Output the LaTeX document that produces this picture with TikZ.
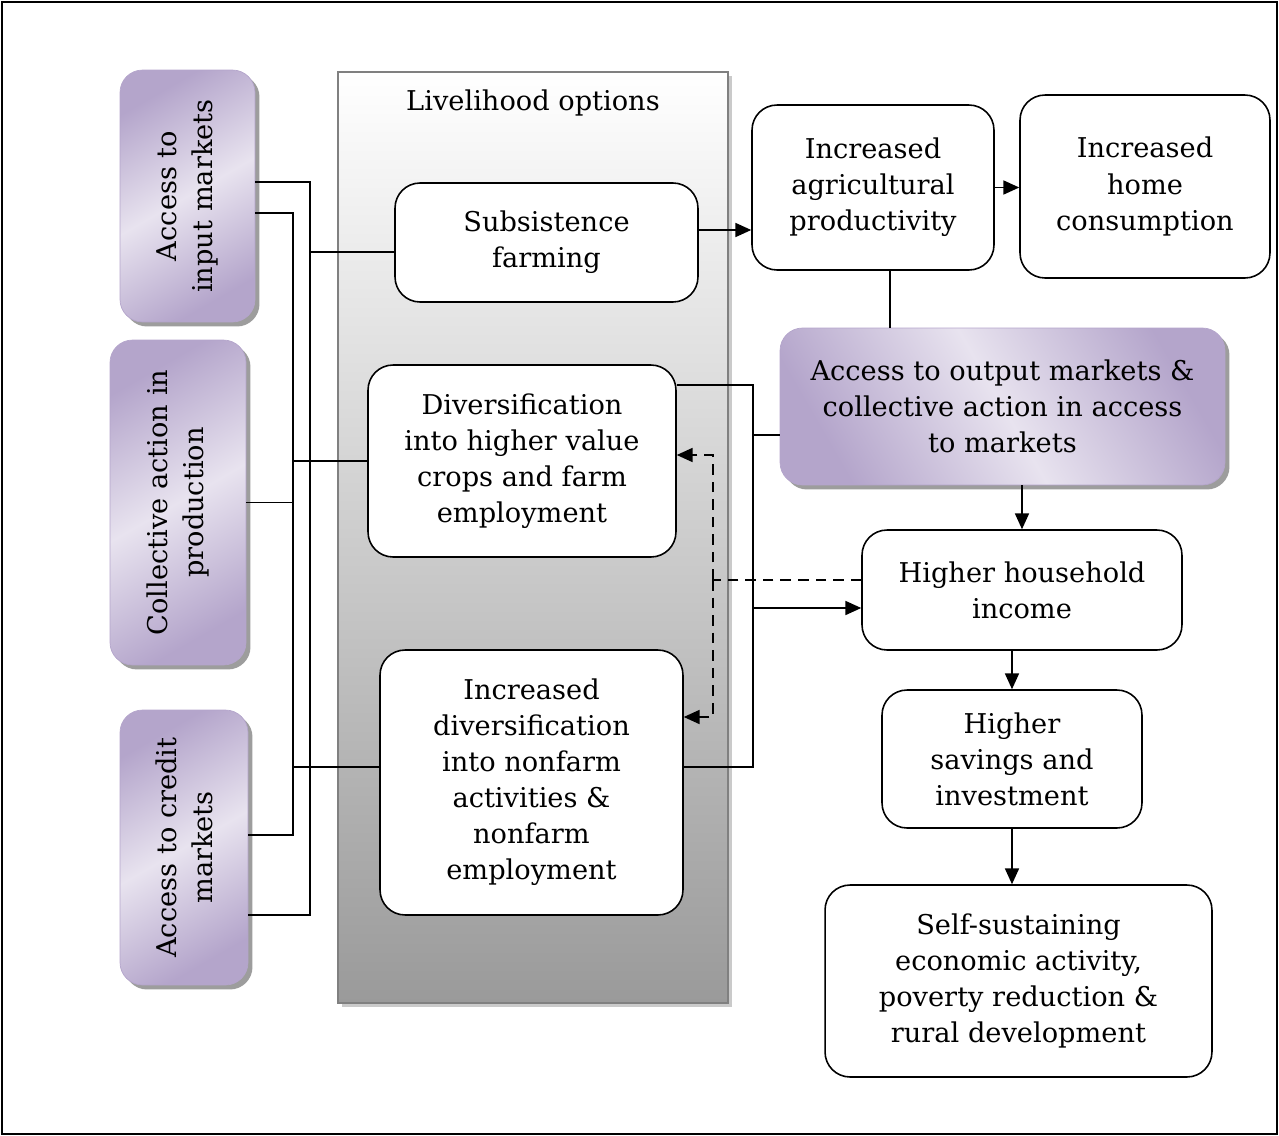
\documentclass[tikz,border=0pt]{standalone}
\usepackage{fontspec}
\setmainfont{DejaVu Serif}
\usetikzlibrary{arrows.meta,shadows}
\definecolor{lavdark}{HTML}{B4A5CB}
\definecolor{lavlight}{HTML}{E8E3EF}
\definecolor{panelgray}{HTML}{9A9A9A}
\tikzset{
	optbox/.style={draw,line width=0.9pt,rounded corners=0.5cm,fill=white,align=center,inner sep=0pt,font=\fontsize{15.5}{20.5}\selectfont},
	lavbox/.style={draw=lavdark,rounded corners=0.45cm,align=center,inner sep=0pt,left color=lavdark,right color=lavdark,middle color=lavlight,shading angle=120,
		drop shadow={shadow xshift=0.09cm,shadow yshift=-0.09cm,fill=black!55,opacity=0.7},font=\fontsize{15.5}{20.5}\selectfont},
	uplav/.style={lavbox,rotate=90,shading angle=30},
	arr/.style={-{Triangle[length=9pt,width=8pt]}},
	link/.style={line width=0.8pt},
}
\begin{document}
\begin{tikzpicture}[x=0.02cm,y=-0.02cm]
	\useasboundingbox (0,0) rectangle (1279,1136);
	\draw[line width=1.6pt] (2,2) rectangle (1277,1134);
	% livelihood options panel
	\node (opt) at (533,537.5) [draw=black!50,line width=1.2pt,top color=white,bottom color=panelgray,minimum width=7.8cm,minimum height=18.62cm,
		drop shadow={shadow xshift=0.08cm,shadow yshift=-0.08cm,fill=black!35,opacity=0.6}] {};
	\node (opttitle) at (533,103) [font=\fontsize{15.5}{20.5}\selectfont] {Livelihood options};
	\node (sub) at (546.5,242.5) [optbox,minimum width=6.06cm,minimum height=2.38cm] {Subsistence\\farming};
	\node (div) at (522,461) [optbox,minimum width=6.16cm,minimum height=3.84cm] {Diversification\\into higher value\\crops and farm\\employment};
	\node (idv) at (531.5,782.5) [optbox,minimum width=6.06cm,minimum height=5.3cm] {Increased\\diversification\\into nonfarm\\activities \&\\nonfarm\\employment};
	% left boxes
	\node (inp) at (187.5,196) [uplav,minimum width=5.04cm,minimum height=2.7cm] {Access to\\input markets};
	\node (col) at (178,502.5) [uplav,minimum width=6.5cm,minimum height=2.72cm] {Collective action in\\production};
	\node (cre) at (184,847.5) [uplav,minimum width=5.5cm,minimum height=2.56cm] {Access to credit\\markets};
	% right boxes
	\node (agri) at (873,187.5) [optbox,minimum width=4.84cm,minimum height=3.3cm] {Increased\\agricultural\\productivity};
	\node (home) at (1145,186.5) [optbox,minimum width=5cm,minimum height=3.66cm] {Increased\\home\\consumption};
	\node (out) at (1002.5,406.5) [lavbox,minimum width=8.9cm,minimum height=3.14cm] {Access to output markets \&\\collective action in access\\to markets};
	\node (hh) at (1022,590) [optbox,minimum width=6.4cm,minimum height=2.4cm] {Higher household\\income};
	\node (sav) at (1012,759) [optbox,minimum width=5.2cm,minimum height=2.76cm] {Higher\\savings and\\investment};
	\node (self) at (1018.5,981) [optbox,minimum width=7.74cm,minimum height=3.84cm] {Self-sustaining\\economic activity,\\poverty reduction \&\\rural development};
	% left links
	\coordinate (a1) at (310,182);
	\coordinate (a2) at (310,915);
	\coordinate (a3) at (310,252);
	\coordinate (b1) at (293,213);
	\coordinate (b2) at (293,835);
	\coordinate (b3) at (293,767);
	\draw[link] (inp.south |- a1) -- (a1) -- (a2) -- (cre.south |- a2);
	\draw[link] (a3) -- (sub.west |- a3);
	\draw[link] (inp.south |- b1) -- (b1) -- (b2) -- (cre.south |- b2);
	\draw[link] (div.west -| b1) -- (div.west);
	\draw[link] (col.south) -- (col.south -| b1);
	\draw[link] (b3) -- (idv.west |- b3);
	% right links
	\coordinate (s1) at (698,230);
	\coordinate (g1) at (890,270);
	\draw[link,arr] (s1) -- (s1 -| agri.west);
	\draw[link,arr] (agri.east) -- (agri.east -| home.west);
	\draw[link] (g1) -- (g1 |- out.north);
	\coordinate (r1) at (753,385);
	\coordinate (r2) at (753,767);
	\coordinate (r3) at (753,435);
	\coordinate (r4) at (753,608);
	\draw[link] (div.east |- r1) -- (r1) -- (r2) -- (idv.east |- r2);
	\draw[link] (r3) -- (r3 -| out.west);
	\draw[link,arr] (r4) -- (r4 -| hh.west);
	\coordinate (d1) at (713,580);
	\coordinate (d2) at (713,455);
	\coordinate (d3) at (713,717);
	\draw[link,dash pattern=on 6pt off 4pt] (hh.west |- d1) -- (d1);
	\draw[link,arr,dash pattern=on 6pt off 4pt] (d1) -- (d2) -- (d2 -| div.east);
	\draw[link,arr,dash pattern=on 6pt off 4pt] (d1) -- (d3) -- (d3 -| idv.east);
	\draw[link,arr] (out.south -| hh.north) -- (hh.north);
	\draw[link,arr] (hh.south -| sav.north) -- (sav.north);
	\draw[link,arr] (sav.south) -- (sav.south |- self.north);
\end{tikzpicture}
\end{document}
